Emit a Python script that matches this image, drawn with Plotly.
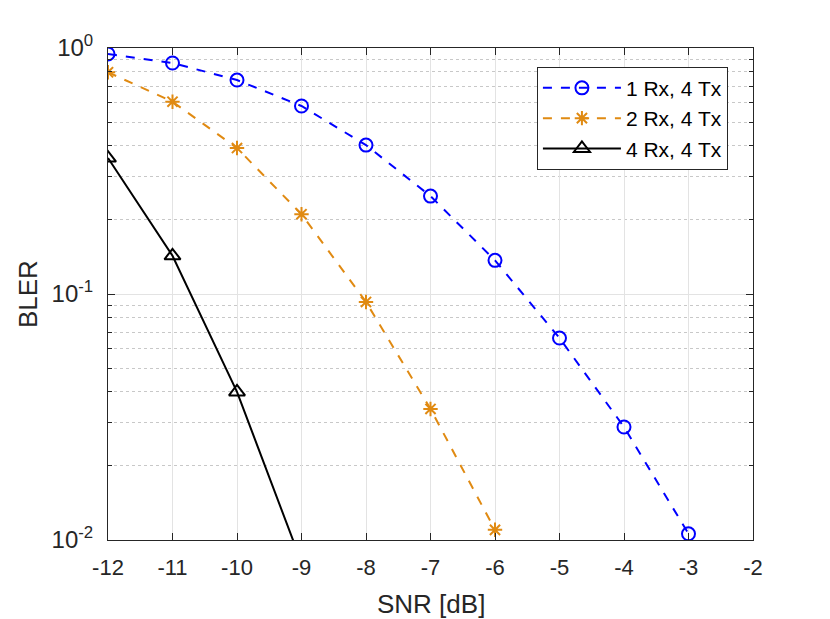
import plotly.graph_objects as go

snr = [-12, -11, -10, -9, -8, -7, -6, -5, -4, -3]
bler_1rx = [0.946, 0.869, 0.741, 0.581, 0.403, 0.250, 0.137, 0.0662, 0.0288, 0.0106]
snr_2rx = [-12, -11, -10, -9, -8, -7, -6]
bler_2rx = [0.797, 0.605, 0.392, 0.211, 0.0928, 0.0341, 0.011]
snr_4rx = [-12, -11, -10, -9]
bler_4rx = [0.357, 0.143, 0.040, 0.0081]

x_ticks = [-12, -11, -10, -9, -8, -7, -6, -5, -4, -3, -2]
x_ticktext = ["-12", "-11", "-10", "-9", "-8", "-7", "-6", "-5", "-4", "-3", "-2"]
y_ticks = [1, 0.1, 0.01]
y_ticktext = ["10<sup>0</sup>", "10<sup>-1</sup>", "10<sup>-2</sup>"]
minor_y = [m * 10 ** e for e in (-2, -1) for m in range(2, 10)]

FONT = "Liberation Sans, Arial, sans-serif"

fig = go.Figure()
fig.add_trace(go.Scatter(x=snr, y=bler_1rx, name="1 Rx, 4 Tx", mode="lines+markers",
                         line=dict(color="#0000FF", width=2, dash="dash"),
                         marker=dict(symbol="circle-open", size=13, color="#0000FF", line=dict(width=2))))
fig.add_trace(go.Scatter(x=snr_2rx, y=bler_2rx, name="2 Rx, 4 Tx", mode="lines+markers",
                         line=dict(color="#E08A12", width=2, dash="dash"),
                         marker=dict(symbol="asterisk-open", size=12, color="#E08A12", line=dict(width=2, color="#E08A12"))))
fig.add_trace(go.Scatter(x=snr_4rx, y=bler_4rx, name="4 Rx, 4 Tx", mode="lines+markers",
                         line=dict(color="#000000", width=2),
                         marker=dict(symbol="triangle-up-open", size=14, color="#000000", line=dict(width=2))))

fig.update_layout(
    width=830, height=619,
    margin=dict(l=100, r=85, t=40, b=87),
    paper_bgcolor="white", plot_bgcolor="white",
    font=dict(family=FONT, size=22, color="#262626"),
    showlegend=True,
    legend=dict(x=0.665, y=0.962, xanchor="left", yanchor="top",
                bgcolor="white", bordercolor="#262626", borderwidth=1,
                font=dict(family=FONT, size=21, color="#000000"),
                itemwidth=78, tracegroupgap=0),
    annotations=[
        dict(text="SNR [dB]", xref="paper", yref="paper", x=0.5, y=-0.13,
             xanchor="center", yanchor="middle", showarrow=False,
             font=dict(family=FONT, size=26, color="#262626")),
        dict(text="BLER", xref="paper", yref="paper", x=-0.124, y=0.5,
             xanchor="center", yanchor="middle", textangle=-90, showarrow=False,
             font=dict(family=FONT, size=26, color="#262626")),
    ],
)
fig.update_xaxes(range=[-12, -2], tickvals=x_ticks, ticktext=x_ticktext, ticks="inside", ticklen=7,
                 tickcolor="#262626", showline=True, linecolor="#262626", linewidth=1,
                 mirror="ticks", showgrid=True, gridcolor="#E3E3E3", gridwidth=1,
                 zeroline=False, ticklabelstandoff=8)
fig.update_yaxes(type="log", range=[-2, 0], tickvals=y_ticks, ticktext=y_ticktext,
                 tickfont=dict(size=24),
                 ticks="inside", ticklen=7, tickcolor="#262626", showline=True,
                 linecolor="#262626", linewidth=1, mirror="ticks", showgrid=True,
                 gridcolor="#E3E3E3", gridwidth=1, zeroline=False, ticklabelstandoff=9,
                 minor=dict(tickvals=minor_y, ticks="inside", ticklen=4, tickcolor="#262626",
                            showgrid=True, gridcolor="#C8C8C8", griddash="dot", gridwidth=1))
fig.write_html("out.html")
